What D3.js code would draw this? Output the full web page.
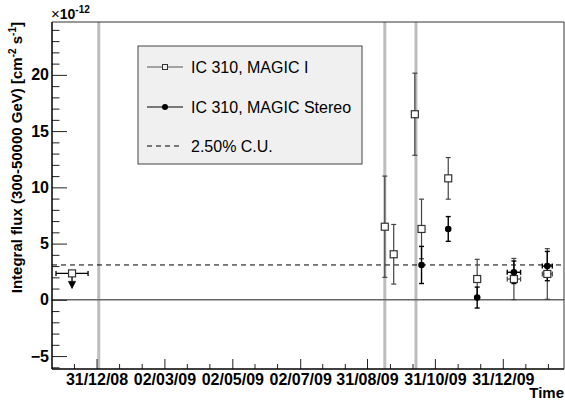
<!DOCTYPE html>
<html>
<head>
<meta charset="utf-8">
<script src="https://cdn.jsdelivr.net/npm/d3@7"></script>
<style>
  body { margin: 0; background: #fff; }
  text { font-family: "Liberation Sans", Arial, sans-serif; }
</style>
</head>
<body>
<div id="chart"></div>
<script>

// MAGIC I (open squares)
var magicIDates = ["2009-09-16", "2009-09-24", "2009-10-13", "2009-10-19", "2009-11-12", "2009-12-08", "2010-01-10", "2010-02-09"];
var magicIFlux  = [6.5, 4.05, 16.5, 6.3, 10.8, 1.85, 1.85, 2.3];
var magicIErr   = [4.5, 2.65, 3.65, 2.65, 1.85, 1.75, 1.83, 2.25];
var magicIXErr  = [0, 0, 0, 0, 0, 0, 6, 4.5];   // days

// MAGIC Stereo (filled circles)
var stereoDates = ["2009-10-19", "2009-11-12", "2009-12-08", "2010-01-10", "2010-02-09"];
var stereoFlux  = [3.1, 6.3, 0.2, 2.45, 3.0];
var stereoErr   = [1.65, 1.1, 0.93, 1.0, 1.3];
var stereoXErr  = [0, 0, 0, 6, 4.5];

// upper limit (MAGIC I)
var ulDates = ["2008-12-09"];
var ulFlux  = [2.35];
var ulXErr  = [14.4];

// vertical grey markers
var bandDates = ["2009-01-02", "2009-09-16", "2009-10-14"];

var crabLevel = 3.1;   // 2.50% C.U.

var tickDates  = ["2008-12-31", "2009-03-02", "2009-05-02", "2009-07-02", "2009-08-31", "2009-10-31", "2009-12-31"];
var tickLabels = ["31/12/08", "02/03/09", "02/05/09", "02/07/09", "31/08/09", "31/10/09", "31/12/09"];
var yMajor = [-5, 0, 5, 10, 15, 20];
var xDomain = ["2008-11-21", "2010-02-24"];
var yDomain = [-6.15, 24.7];

var parse = d3.utcParse("%Y-%m-%d");
var DAY = 864e5;

var W = 565, H = 403;
var margin = {top: 22, left: 52, bottom: 34, right: 1};
var width = W - margin.left - margin.right;
var height = H - margin.top - margin.bottom;

var svg = d3.select("#chart").append("svg")
    .attr("width", W)
    .attr("height", H);

var g = svg.append("g")
    .attr("transform", "translate(" + margin.left + "," + margin.top + ")");

var x = d3.scaleUtc()
    .domain(xDomain.map(parse))
    .range([0, width]);

var y = d3.scaleLinear()
    .domain(yDomain)
    .range([height, 0]);

// grey vertical lines
g.selectAll(".band")
  .data(bandDates)
  .enter().append("line")
    .attr("x1", d => x(parse(d)))
    .attr("x2", d => x(parse(d)))
    .attr("y1", 0)
    .attr("y2", height)
    .attr("stroke", "#bdbdbd")
    .attr("stroke-width", 3);

// zero line
g.append("line")
    .attr("x1", 0).attr("x2", width)
    .attr("y1", y(0)).attr("y2", y(0))
    .attr("stroke", "#666")
    .attr("stroke-width", 1.5);

// crab unit line
g.append("line")
    .attr("x1", 0).attr("x2", width)
    .attr("y1", y(crabLevel)).attr("y2", y(crabLevel))
    .attr("stroke", "#000")
    .attr("stroke-dasharray", "5,4");

// y axis, ticks pointing inward
var yMinor = d3.range(Math.ceil(yDomain[0]), Math.floor(yDomain[1]) + 1).filter(v => yMajor.indexOf(v) < 0);

g.append("g")
    .call(d3.axisRight(y).tickValues(yMinor).tickSize(7.5).tickFormat(""))
    .call(a => a.select(".domain").remove())
    .selectAll("line").attr("stroke", "#222");

var yAx = g.append("g")
    .call(d3.axisRight(y).tickValues(yMajor).tickSize(15).tickFormat(d3.format("d")))
    .call(a => a.select(".domain").remove());
yAx.selectAll("line").attr("stroke", "#222");
yAx.selectAll("text")
    .attr("x", -3)
    .attr("text-anchor", "end")
    .attr("font-size", 16)
    .attr("font-weight", "bold")
    .attr("fill", "#000")
    .style("font-family", "Liberation Sans, Arial, sans-serif");

// x axis, ticks pointing up
var majorT = tickDates.map(parse);
var step = (majorT[majorT.length - 1] - majorT[0]) / (majorT.length - 1) / 3;
var xMinor = [];
for (var t = +majorT[0] - step; t > +x.domain()[0]; t -= step) xMinor.push(new Date(t));
for (var t = +majorT[0] + step; t < +x.domain()[1]; t += step) xMinor.push(new Date(t));
xMinor = xMinor.filter(d => majorT.every(m => Math.abs(m - d) > DAY * 5));

g.append("g")
    .attr("transform", "translate(0," + height + ")")
    .call(d3.axisTop(x).tickValues(xMinor).tickSize(5).tickFormat(""))
    .call(a => a.select(".domain").remove())
    .selectAll("line").attr("stroke", "#222");

var xAx = g.append("g")
    .attr("transform", "translate(0," + height + ")")
    .call(d3.axisTop(x).tickValues(majorT).tickSize(10).tickFormat((d, i) => tickLabels[i]))
    .call(a => a.select(".domain").remove());
xAx.selectAll("line").attr("stroke", "#222");
xAx.selectAll("text")
    .attr("y", 16)
    .attr("dy", 0)
    .attr("font-size", 16)
    .attr("font-weight", "bold")
    .attr("fill", "#000")
    .style("font-family", "Liberation Sans, Arial, sans-serif");

// frame
g.append("line").attr("x1", width).attr("x2", width).attr("y1", 0).attr("y2", height)
    .attr("stroke", "#333").attr("stroke-width", 1);
g.append("line").attr("x1", 0).attr("x2", width).attr("y1", 0).attr("y2", 0)
    .attr("stroke", "#333").attr("stroke-width", 1);
g.append("line").attr("x1", 0).attr("x2", 0).attr("y1", 0).attr("y2", height)
    .attr("stroke", "#000").attr("stroke-width", 1.5);
g.append("line").attr("x1", 0).attr("x2", width).attr("y1", height).attr("y2", height)
    .attr("stroke", "#000").attr("stroke-width", 1.5);

// error bars
function drawSeries(dates, flux, err, xerr, color, width_) {
  var pts = dates.map((d, i) => ({t: parse(d), v: flux[i], e: err[i], xe: xerr[i]}));
  var s = g.append("g").attr("stroke", color).attr("stroke-width", width_).attr("fill", "none");
  pts.forEach(p => {
    var cx = x(p.t), cy = y(p.v);
    s.append("line").attr("x1", cx).attr("x2", cx).attr("y1", y(p.v + p.e)).attr("y2", y(p.v - p.e));
    s.append("line").attr("x1", cx - 2.5).attr("x2", cx + 2.5).attr("y1", y(p.v + p.e)).attr("y2", y(p.v + p.e));
    s.append("line").attr("x1", cx - 2.5).attr("x2", cx + 2.5).attr("y1", y(p.v - p.e)).attr("y2", y(p.v - p.e));
    if (p.xe > 0) {
      var x0 = x(new Date(+p.t - p.xe * DAY)), x1 = x(new Date(+p.t + p.xe * DAY));
      s.append("line").attr("x1", x0).attr("x2", x1).attr("y1", cy).attr("y2", cy);
      s.append("line").attr("x1", x0).attr("x2", x0).attr("y1", cy - 2.5).attr("y2", cy + 2.5);
      s.append("line").attr("x1", x1).attr("x2", x1).attr("y1", cy - 2.5).attr("y2", cy + 2.5);
    }
  });
  return pts;
}

var mPts = drawSeries(magicIDates, magicIFlux, magicIErr, magicIXErr, "#444", 1.2);
var sPts = drawSeries(stereoDates, stereoFlux, stereoErr, stereoXErr, "#000", 1.4);

// upper limit
ulDates.forEach((d, i) => {
  var t = parse(d), cx = x(t), cy = y(ulFlux[i]);
  var x0 = x(new Date(+t - ulXErr[i] * DAY)), x1 = x(new Date(+t + ulXErr[i] * DAY));
  var u = g.append("g").attr("stroke", "#000").attr("stroke-width", 1.3);
  u.append("line").attr("x1", x0).attr("x2", x1).attr("y1", cy).attr("y2", cy);
  u.append("line").attr("x1", x0).attr("x2", x0).attr("y1", cy - 2.5).attr("y2", cy + 2.5);
  u.append("line").attr("x1", x1).attr("x2", x1).attr("y1", cy - 2.5).attr("y2", cy + 2.5);
  u.append("line").attr("x1", cx).attr("x2", cx).attr("y1", cy).attr("y2", cy + 8);
  u.append("path")
      .attr("d", "M" + (cx - 3.5) + "," + (cy + 8) + "L" + (cx + 3.5) + "," + (cy + 8) + "L" + cx + "," + (cy + 15) + "Z")
      .attr("fill", "#000").attr("stroke-width", 0.8);
  g.append("rect")
      .attr("x", cx - 3.5).attr("y", cy - 3.5).attr("width", 7).attr("height", 7)
      .attr("fill", "#fff").attr("stroke", "#333").attr("stroke-width", 1.2);
});

// markers
g.selectAll(".sq")
  .data(mPts)
  .enter().append("rect")
    .attr("x", d => x(d.t) - 3.5)
    .attr("y", d => y(d.v) - 3.5)
    .attr("width", 7)
    .attr("height", 7)
    .attr("fill", "#fff")
    .attr("stroke", "#333")
    .attr("stroke-width", 1.2);

g.selectAll(".dot")
  .data(sPts)
  .enter().append("circle")
    .attr("cx", d => x(d.t))
    .attr("cy", d => y(d.v))
    .attr("r", 3.3)
    .attr("fill", "#000");

// legend
var leg = svg.append("g").attr("transform", "translate(138,46)");
leg.append("rect")
    .attr("width", 224).attr("height", 118)
    .attr("fill", "#f0f0f0").attr("stroke", "#444").attr("stroke-width", 1);

var legItems = ["IC 310, MAGIC I", "IC 310, MAGIC Stereo", "2.50% C.U."];
var legY = [21, 61, 100];
legItems.forEach((name, i) => {
  var row = leg.append("g").attr("transform", "translate(0," + legY[i] + ")");
  var ln = row.append("line").attr("x1", 9).attr("x2", 45).attr("y1", 0).attr("y2", 0)
      .attr("stroke", i == 0 ? "#555" : "#000").attr("stroke-width", 1.2);
  if (i == 2) ln.attr("stroke-dasharray", "5,4");
  if (i == 0) row.append("rect").attr("x", 24.5).attr("y", -2.5).attr("width", 5).attr("height", 5)
      .attr("fill", "#f0f0f0").attr("stroke", "#333").attr("stroke-width", 1);
  if (i == 1) row.append("circle").attr("cx", 27).attr("r", 3).attr("fill", "#000");
  row.append("text")
      .attr("x", 53).attr("y", 0).attr("dy", "0.35em")
      .attr("font-size", 16)
      .attr("fill", "#000")
      .text(name);
});

// axis titles
var yt = svg.append("text")
    .attr("transform", "translate(22,22) rotate(-90)")
    .attr("text-anchor", "end")
    .attr("font-size", 15)
    .attr("font-weight", "bold");
yt.append("tspan").text("Integral flux (300-50000 GeV) [cm");
yt.append("tspan").attr("font-size", 10).attr("dy", -6).text("-2");
yt.append("tspan").attr("dy", 6).text(" s");
yt.append("tspan").attr("font-size", 10).attr("dy", -6).text("-1");
yt.append("tspan").attr("dy", 6).text("]");

svg.append("text")
    .attr("x", 564).attr("y", 398)
    .attr("text-anchor", "end")
    .attr("font-size", 15)
    .attr("font-weight", "bold")
    .text("Time");

var ex = svg.append("text").attr("x", 51).attr("y", 19);
ex.append("tspan").attr("font-size", 15).text("\u00d7");
ex.append("tspan").attr("font-size", 14).attr("font-weight", "bold").text("10");
ex.append("tspan").attr("font-size", 10).attr("font-weight", "bold").attr("dy", -6).text("-12");

</script>
</body>
</html>
